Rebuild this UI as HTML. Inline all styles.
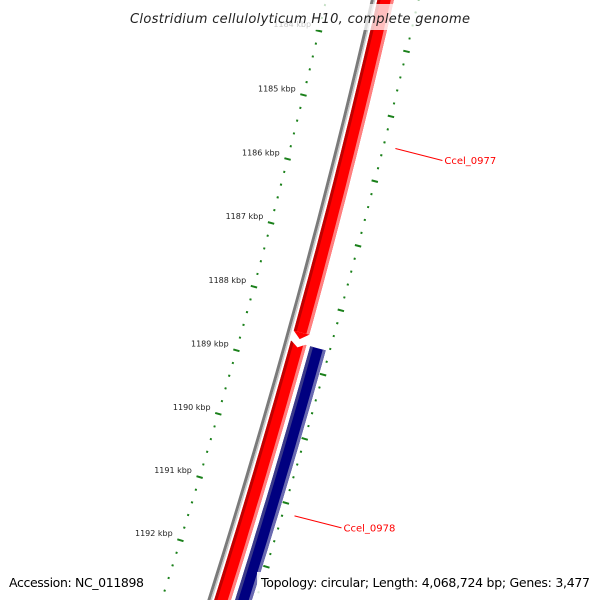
<!DOCTYPE html>
<html><head><meta charset="utf-8"><style>
html,body{margin:0;padding:0;background:#fff;overflow:hidden;width:600px;height:600px;}
svg{display:block;font-family:"DejaVu Sans","Liberation Sans",sans-serif;}
</style></head><body>
<svg id="map" width="600" height="600" viewBox="0 0 600 600">
<g id="tracks"></g>
<g id="ticks"></g>
<g id="labels"></g>
<rect x="0" y="4" width="600" height="26" fill="#fff" fill-opacity="0.75"/>
<text x="300" y="23" text-anchor="middle" font-size="13" font-style="italic" fill="#222" textLength="340">Clostridium cellulolyticum H10, complete genome</text>
<rect x="4" y="572" width="144" height="28" fill="#fff" fill-opacity="0.85"/>
<text x="9" y="587" font-size="12.5" fill="#000" textLength="135">Accession: NC_011898</text>
<rect x="257" y="572" width="343" height="28" fill="#fff" fill-opacity="0.85"/>
<text x="261" y="587" font-size="12.5" fill="#000" textLength="329">Topology: circular; Length: 4,068,724 bp; Genes: 3,477</text>
</svg>
<script>
const majorTicks = [1183, 1184, 1185, 1186, 1187, 1188, 1189, 1190, 1191, 1192, 1193, 1194];
const majorLabels = ["", "1184 kbp","1185 kbp","1186 kbp","1187 kbp","1188 kbp","1189 kbp","1190 kbp","1191 kbp","1192 kbp","",""];
const geneNames = ["Ccel_0977", "Ccel_0978", "Ccel_0978-cds"];
const geneStart = [1180.0, 1188.64, 1188.64];
const geneEnd = [1188.58, 1196.0, 1196.0];
const geneLane = ["red", "red", "blue"];
const geneLabelKbp = [1185.45, 1191.15];

const NS = "http://www.w3.org/2000/svg";
const R = 7800, KM = 1188.5, PXK = 66;
const CX = 244.8 - 0.9638 * R, CY = 318.4 - 0.2664 * R;
const TH = Math.atan2(0.2664, 0.9638);
function theta(k){ return TH + (k - KM) * PXK / R; }
function pt(k, off){ const t = theta(k); return [CX + (R + off) * Math.cos(t), CY + (R + off) * Math.sin(t)]; }
function mk(tag, parent){ const e = document.createElementNS(NS, tag); parent.appendChild(e); return e; }
function arcPts(k1, k2, off){ const a = []; const n = 40; for (let i = 0; i <= n; i++) { a.push(pt(k1 + (k2 - k1) * i / n, off)); } return a; }
function band(parent, k1, k2, o1, o2, fill, name){
  const p = arcPts(k1, k2, o1).concat(arcPts(k1, k2, o2).reverse());
  const e = mk("polygon", parent);
  e.setAttribute("points", p.map(q => q[0].toFixed(1) + "," + q[1].toFixed(1)).join(" "));
  e.setAttribute("fill", fill);
  
  
  return e;
}
const tracks = document.getElementById("tracks");
const KA = 1180, KB = 1196;
band(tracks, KA, KB, 43.5, 46.5, "#7a7a7a", "backbone-line");
band(tracks, KA, KB, 46.5, 48, "#c8c8c8", "backbone-highlight");

const lanes = { red: [50, 66, "#ff0000", "#c00000", "#ff8080"], blue: [70, 86, "#000080", "#3a3a8a", "#6a6ab0"] };
for (let i = 0; i < geneNames.length; i++) {
  const L = lanes[geneLane[i]];
  const g = mk("g", tracks);
  
  
  const s = geneStart[i], e = geneEnd[i];
  if (i === 0) {
    const bodyEnd = e - 0.1;
    band(g, s, bodyEnd, L[0], L[1], L[2], "gene-body");
    band(g, s, bodyEnd, L[0], L[0] + 3, L[3], "gene-shade");
    band(g, s, bodyEnd, L[1] - 3, L[1], L[4], "gene-highlight");
    const a = pt(bodyEnd, L[0]), b = pt(e, (L[0] + L[1]) / 2), c = pt(bodyEnd, L[1]);
    const tip = mk("polygon", g);
    tip.setAttribute("points", [a, b, c].map(q => q[0].toFixed(1) + "," + q[1].toFixed(1)).join(" "));
    tip.setAttribute("fill", L[2]);
    
    
  } else {
    band(g, s, e, L[0], L[1], L[2], "gene-body");
    band(g, s, e, L[0], L[0] + 3, L[3], "gene-shade");
    band(g, s, e, L[1] - 3, L[1], L[4], "gene-highlight");
    if (geneLane[i] === "red") {
      const a = pt(s - 0.01, L[0]), b = pt(s + 0.07, (L[0] + L[1]) / 2), c = pt(s - 0.01, L[1]);
      const notch = mk("polygon", g);
      notch.setAttribute("points", [a, b, c].map(q => q[0].toFixed(1) + "," + q[1].toFixed(1)).join(" "));
      notch.setAttribute("fill", "#fff");
      
      
    }
  }
}

const ticks = document.getElementById("ticks");
function tick(k, off, len, name){
  const a = pt(k, off - len / 2), b = pt(k, off + len / 2);
  const l = mk("line", ticks);
  l.setAttribute("x1", a[0].toFixed(1)); l.setAttribute("y1", a[1].toFixed(1));
  l.setAttribute("x2", b[0].toFixed(1)); l.setAttribute("y2", b[1].toFixed(1));
  l.setAttribute("stroke", "#1a801a"); l.setAttribute("stroke-width", "2");
  
  
}
for (let m = 0; m < majorTicks.length; m++) {
  for (let j = 0; j < 5; j++) {
    const k = majorTicks[m] + j * 0.2;
    const major = j === 0;
    tick(k, 0, major ? 6.5 : 2, major ? "inner-major-tick" : "inner-minor-tick");
    tick(k, 90, major ? 6.5 : 2, major ? "outer-major-tick" : "outer-minor-tick");
  }
}
const labels = document.getElementById("labels");
for (let m = 0; m < majorTicks.length; m++) {
  if (!majorLabels[m]) continue;
  const p = pt(majorTicks[m], -7);
  const t = mk("text", labels);
  t.setAttribute("x", (p[0] - 1).toFixed(1)); t.setAttribute("y", (p[1] - 2).toFixed(1));
  t.setAttribute("text-anchor", "end"); t.setAttribute("font-size", "8");
  t.setAttribute("fill", "#222");
  t.textContent = majorLabels[m];
  
  
}
for (let i = 0; i < geneLabelKbp.length; i++) {
  const a = pt(geneLabelKbp[i], 102);
  const bx = a[0] + 47, by = a[1] + 12;
  const l = mk("line", labels);
  l.setAttribute("x1", a[0].toFixed(1)); l.setAttribute("y1", a[1].toFixed(1));
  l.setAttribute("x2", bx.toFixed(1)); l.setAttribute("y2", by.toFixed(1));
  l.setAttribute("stroke", "#ff0000"); l.setAttribute("stroke-width", "1");
  
  
  const t = mk("text", labels);
  t.setAttribute("x", (bx + 2).toFixed(1)); t.setAttribute("y", (by + 3.5).toFixed(1));
  t.setAttribute("font-size", "10"); t.setAttribute("fill", "#ff0000");
  t.textContent = geneNames[i];
  
  
}
</script>
</body></html>
